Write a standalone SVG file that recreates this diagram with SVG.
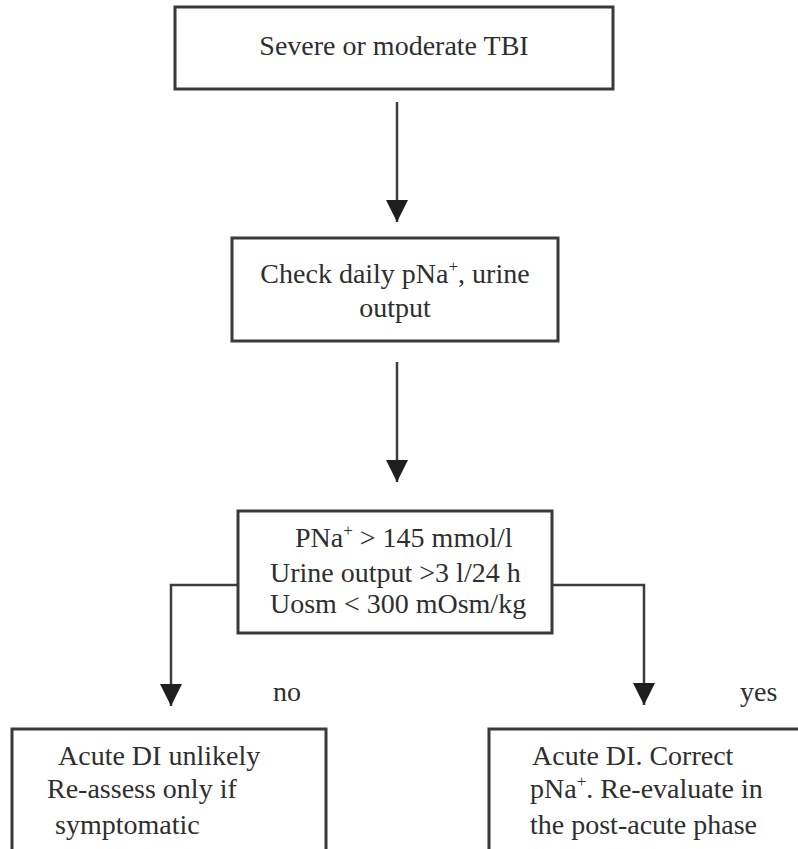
<svg xmlns="http://www.w3.org/2000/svg" width="798" height="849" viewBox="0 0 798 849">
  <style>
    .box { fill: #ffffff; stroke: #3a3a3a; stroke-width: 3; }
    .lbl { font-size: 28px; fill: #2e2e2e; }
    .sup { font-size: 17px; }
    .edge { fill: none; stroke: #3c3c3c; stroke-width: 2.5; marker-end: url(#head); }
  </style>
  <defs>
    <marker id="head" markerUnits="userSpaceOnUse" markerWidth="22" markerHeight="22" viewBox="0 0 22 22" refX="22" refY="11" orient="auto">
      <path d="M0,0 L22,11 L0,22 z" fill="#1e1e1e"/>
    </marker>
  </defs>
  <rect width="798" height="849" fill="#ffffff"/>

  <g font-family="'Liberation Serif', 'DejaVu Serif', serif">
    <g id="connectors">
      <path class="edge" d="M397,102 L397,222"/>
      <path class="edge" d="M397,362 L397,482"/>
      <path class="edge" d="M238,585 L171,585 L171,706"/>
      <path class="edge" d="M552,585 L644,585 L644,705"/>
      <text class="lbl" x="273" y="701">no</text>
      <text class="lbl" x="740" y="701">yes</text>
    </g>

    <g id="tbi">
      <rect class="box" x="175" y="7" width="438" height="82"/>
      <text class="lbl" x="394" y="55" text-anchor="middle">Severe or moderate TBI</text>
    </g>

    <g id="check">
      <rect class="box" x="232" y="238" width="326" height="103"/>
      <text class="lbl" x="395" y="283" text-anchor="middle">Check daily pNa<tspan class="sup" dy="-11">+</tspan><tspan dy="11">, urine</tspan></text>
      <text class="lbl" x="395" y="317" text-anchor="middle">output</text>
    </g>

    <g id="criteria">
      <rect class="box" x="238" y="511" width="314" height="122"/>
      <text class="lbl" x="295" y="547">PNa<tspan class="sup" dy="-11">+</tspan><tspan dy="11"> &gt; 145 mmol/l</tspan></text>
      <text class="lbl" x="270" y="582">Urine output &gt;3 l/24 h</text>
      <text class="lbl" x="270" y="613">Uosm &lt; 300 mOsm/kg</text>
    </g>

    <g id="no-di">
      <rect class="box" x="12" y="729" width="314" height="150"/>
      <text class="lbl" x="58" y="765">Acute DI unlikely</text>
      <text class="lbl" x="47" y="798">Re-assess only if</text>
      <text class="lbl" x="55" y="834">symptomatic</text>
    </g>

    <g id="acute-di">
      <rect class="box" x="489" y="729" width="330" height="150"/>
      <text class="lbl" x="532" y="765">Acute DI. Correct</text>
      <text class="lbl" x="530" y="798">pNa<tspan class="sup" dy="-11">+</tspan><tspan dy="11">. Re-evaluate in</tspan></text>
      <text class="lbl" x="530" y="834">the post-acute phase</text>
    </g>
  </g>
</svg>
